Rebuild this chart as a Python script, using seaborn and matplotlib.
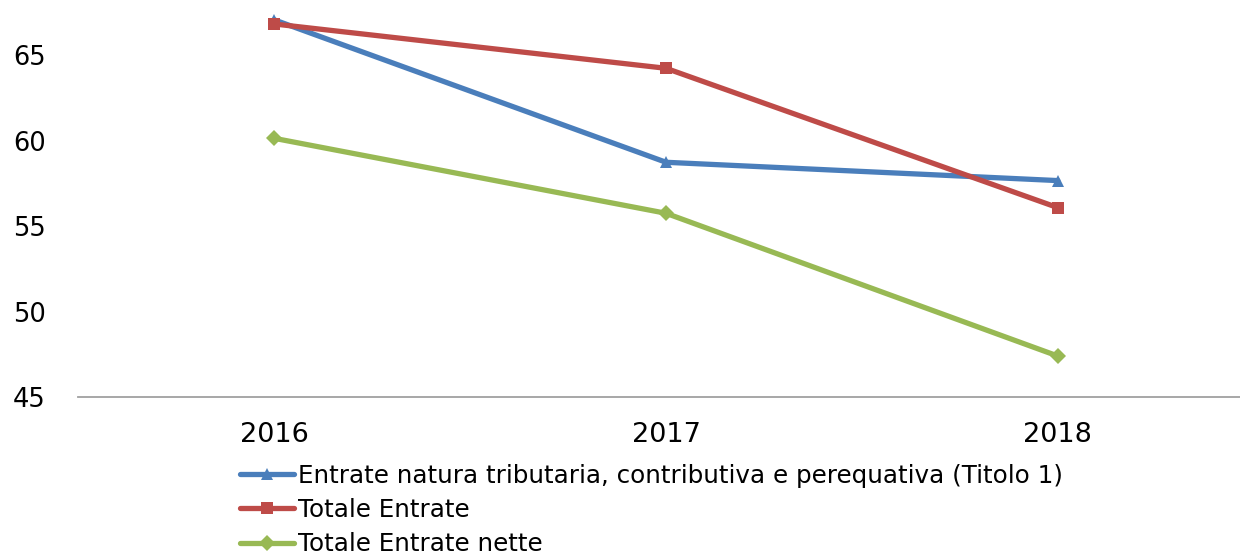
import matplotlib
matplotlib.use("Agg")
import matplotlib.pyplot as plt
import seaborn as sns
import pandas as pd

years = ["2016", "2017", "2018"]
series_names = [
    "Entrate natura tributaria, contributiva e perequativa (Titolo 1)",
    "Totale Entrate",
    "Totale Entrate nette",
]
titolo1 = [67.05, 58.73, 57.66]
totale = [66.81, 64.22, 56.08]
nette = [60.13, 55.75, 47.41]
yticks = [45, 50, 55, 60, 65]

colors = ["#4A7EBB", "#BE4B48", "#98B954"]
markers = ["^", "s", "D"]

rows = []
for name, vals in zip(series_names, [titolo1, totale, nette]):
    for y, v in zip(years, vals):
        rows.append({"Anno": y, "Valore": v, "Serie": name})
df = pd.DataFrame(rows)

sns.set_theme(style="white")
plt.rcParams["font.family"] = ["DejaVu Sans"]

fig = plt.figure(figsize=(12.4, 5.54), dpi=100)
ax = fig.add_axes([78.3 / 1240, (554 - 397.3) / 554, (1240 - 78.3) / 1240, 397.3 / 554])

sns.lineplot(
    data=df, x="Anno", y="Valore", hue="Serie", style="Serie",
    hue_order=series_names, style_order=series_names,
    palette=dict(zip(series_names, colors)),
    markers=dict(zip(series_names, markers)),
    dashes=False, linewidth=3.8, markersize=9, markeredgewidth=0,
    ax=ax, legend=True, clip_on=False,
)
for line in ax.get_lines():
    if line.get_marker() == "D":
        line.set_markersize(8)

ax.set_xlim(-0.5, 2.465)
ax.set_ylim(45, 68.21)
ax.set_yticks(yticks)
ax.set_yticklabels([str(t) for t in yticks])
ax.set_xlabel("")
ax.set_ylabel("")
for s in ["top", "right", "left"]:
    ax.spines[s].set_visible(False)
ax.spines["bottom"].set_color("#A0A0A0")
ax.spines["bottom"].set_linewidth(1.3)
ax.tick_params(axis="y", length=0, pad=23.5, labelsize=18.5, labelcolor="black")
ax.tick_params(axis="x", length=0, pad=18, labelsize=19.5, labelcolor="black")
ax.grid(False)

handles, labels = ax.get_legend_handles_labels()
ax.get_legend().remove()
for h in handles:
    h.set_linewidth(3.8)
leg = fig.legend(
    handles, labels, loc="upper left",
    bbox_to_anchor=(240 / 1240, 1 - 464 / 554),
    frameon=False, fontsize=17.7, handlelength=2.2, handletextpad=0.17,
    labelspacing=0.41, borderaxespad=0, borderpad=0,
)
for t in leg.get_texts():
    t.set_color("black")

fig.savefig("out.png", dpi=100)
